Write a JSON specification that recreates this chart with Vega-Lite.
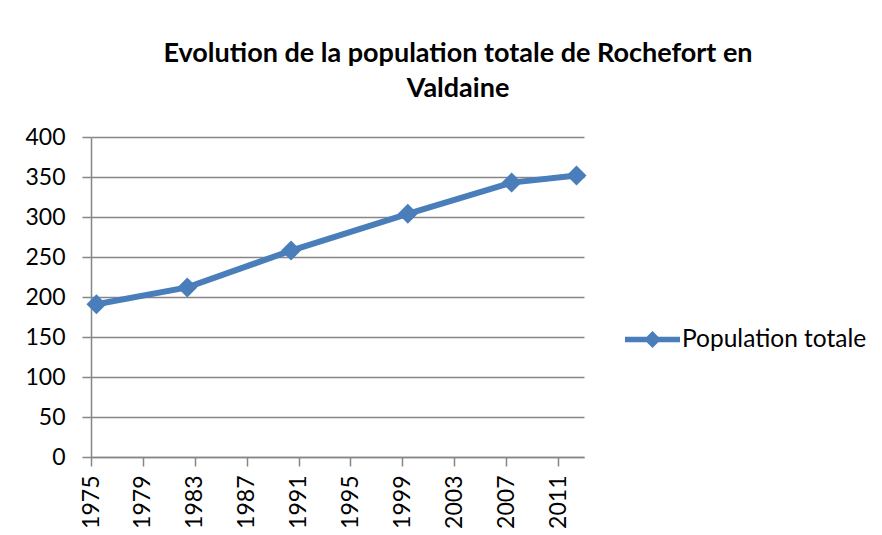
{
  "$schema": "https://vega.github.io/schema/vega-lite/v6.json",
  "width": 493,
  "height": 320,
  "autosize": {"type": "none"},
  "padding": {"left": 91, "top": 137, "right": 298, "bottom": 78},
  "background": "white",
  "title": {
    "text": ["Evolution de la population totale de Rochefort en", "Valdaine"],
    "font": "Lato",
    "fontSize": 27,
    "fontWeight": "bold",
    "color": "black",
    "lineHeight": 35,
    "anchor": "middle",
    "frame": "bounds",
    "offset": 23,
    "dx": 12
  },
  "data": {
    "values": [
      {"annee": 1975.42, "population": 191, "serie": "Population totale"},
      {"annee": 1982.42, "population": 212, "serie": "Population totale"},
      {"annee": 1990.42, "population": 258, "serie": "Population totale"},
      {"annee": 1999.42, "population": 304, "serie": "Population totale"},
      {"annee": 2007.42, "population": 343, "serie": "Population totale"},
      {"annee": 2012.42, "population": 352, "serie": "Population totale"}
    ]
  },
  "mark": {
    "type": "line",
    "strokeWidth": 6,
    "strokeCap": "round",
    "point": {"shape": "diamond", "size": 400, "filled": true, "opacity": 1}
  },
  "encoding": {
    "x": {
      "field": "annee",
      "type": "quantitative",
      "scale": {"domain": [1975, 2013], "nice": false, "zero": false},
      "axis": {
        "title": null,
        "values": [1975, 1979, 1983, 1987, 1991, 1995, 1999, 2003, 2007, 2011],
        "format": "d",
        "grid": false,
        "labelAngle": -90,
        "labelAlign": "right",
        "labelBaseline": "middle",
        "labelPadding": 9,
        "tickSize": 9,
        "labelFontSize": 23
      }
    },
    "y": {
      "field": "population",
      "type": "quantitative",
      "scale": {"domain": [0, 400], "nice": false},
      "axis": {
        "title": null,
        "values": [0, 50, 100, 150, 200, 250, 300, 350, 400],
        "grid": true,
        "tickSize": 9,
        "labelPadding": 17,
        "labelFontSize": 23
      }
    },
    "color": {
      "field": "serie",
      "type": "nominal",
      "scale": {"range": ["#4a7ebb"]},
      "legend": {
        "title": null,
        "orient": "none",
        "legendX": 534,
        "legendY": 175,
        "symbolType": "M-1,-0.1L-0.21,-0.1L0,-0.31L0.21,-0.1L1,-0.1L1,0.1L0.21,0.1L0,0.31L-0.21,0.1L-1,0.1Z",
        "symbolSize": 3025,
        "labelFontSize": 24.5,
        "labelOffset": 2,
        "labelLimit": 400,
        "labelFont": "Lato",
        "labelColor": "black",
        "encode": {
          "symbols": {
            "update": {
              "fill": {"value": "#4a7ebb"},
              "stroke": {"value": "transparent"},
              "strokeWidth": {"value": 0},
              "opacity": {"value": 1}
            }
          }
        }
      }
    }
  },
  "config": {
    "view": {"stroke": null},
    "axis": {
      "labelFont": "Lato",
      "labelColor": "black",
      "domainColor": "#868686",
      "domainWidth": 1.5,
      "tickColor": "#868686",
      "tickWidth": 1.5,
      "gridColor": "#868686",
      "gridWidth": 1.5,
      "gridOpacity": 1
    }
  }
}
